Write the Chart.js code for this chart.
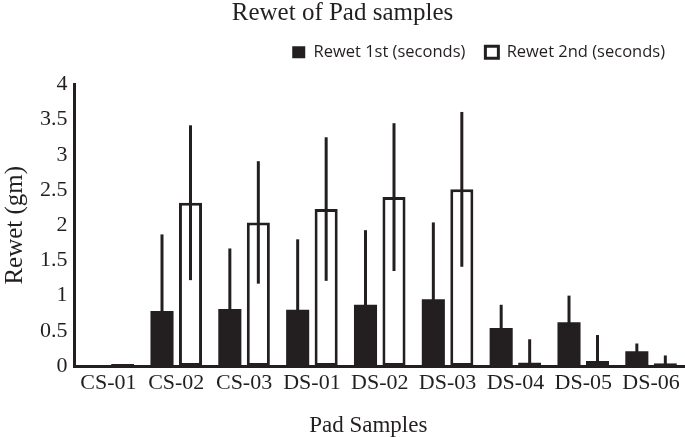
<!DOCTYPE html>
<html>
<head>
<meta charset="utf-8">
<script src="https://cdn.jsdelivr.net/npm/chart.js@4/dist/chart.umd.min.js"></script>
<style>
  html, body { margin: 0; padding: 0; background: #fff; }
  #wrap { width: 685px; height: 437px; position: relative; }
</style>
</head>
<body>
<div id="wrap"><canvas id="rewetChart"></canvas></div>
<script>
const samples = ['CS-01', 'CS-02', 'CS-03', 'DS-01', 'DS-02', 'DS-03', 'DS-04', 'DS-05', 'DS-06'];
const rewet1st = [0, 0.78, 0.81, 0.80, 0.87, 0.95, 0.54, 0.62, 0.21];
const rewet1stErr = [0, 1.09, 0.86, 1.00, 1.06, 1.09, 0.33, 0.38, 0.11];
const rewet2nd = [0.03, 2.32, 2.04, 2.23, 2.40, 2.51, 0.05, 0.07, 0.04];
const rewet2ndErr = [0, 1.10, 0.87, 1.02, 1.05, 1.10, 0.33, 0.37, 0.11];

const ink = '#231f20';
const serif = "'Liberation Serif', 'Times New Roman', serif";

// vertical error lines, no caps, clipped at zero
const errorBars = {
    id: 'errorBars',
    afterDatasetsDraw(chart) {
        const ctx = chart.ctx;
        const y = chart.scales.y;
        ctx.save();
        ctx.strokeStyle = ink;
        ctx.lineWidth = 3;
        chart.data.datasets.forEach((ds, i) => {
            const meta = chart.getDatasetMeta(i);
            meta.data.forEach((bar, j) => {
                const e = ds.errors[j];
                if (!e) return;
                const v = ds.data[j];
                const top = y.getPixelForValue(v + e);
                const bottom = y.getPixelForValue(Math.max(0, v - e));
                ctx.beginPath();
                ctx.moveTo(bar.x, top);
                ctx.lineTo(bar.x, bottom);
                ctx.stroke();
            });
        });
        ctx.restore();
    }
};

// a bit of empty room under the legend
const legendSpace = {
    id: 'legendSpace',
    beforeLayout(chart) {
        const legend = chart.legend;
        if (!legend || legend._spaced) return;
        const fit = legend.fit;
        legend.fit = function () {
            fit.call(this);
            this.height += 14;
        };
        legend._spaced = true;
    }
};

const ctx = document.getElementById('rewetChart').getContext('2d');
new Chart(ctx, {
    type: 'bar',
    data: {
        labels: samples,
        datasets: [{
            label: 'Rewet 1st (seconds)',
            data: rewet1st,
            errors: rewet1stErr,
            backgroundColor: ink,
            borderColor: ink,
            borderWidth: 0,
            categoryPercentage: 0.84,
            barPercentage: 0.81
        }, {
            label: 'Rewet 2nd (seconds)',
            data: rewet2nd,
            errors: rewet2ndErr,
            backgroundColor: '#ffffff',
            borderColor: ink,
            borderWidth: 3,
            borderSkipped: false,
            categoryPercentage: 0.84,
            barPercentage: 0.81
        }]
    },
    options: {
        responsive: true,
        maintainAspectRatio: false,
        animation: false,
        layout: { padding: { left: 0, right: 0, top: 0, bottom: 0 } },
        plugins: {
            title: {
                display: true,
                text: 'Rewet of Pad samples',
                color: ink,
                font: { family: serif, size: 25, weight: 'normal' },
                padding: { top: -2, bottom: -4 }
            },
            legend: {
                position: 'top',
                align: 'end',
                labels: {
                    boxWidth: 13,
                    boxHeight: 12,
                    padding: 20,
                    color: ink,
                    font: { family: "'Open Sans', sans-serif", size: 16.5 }
                }
            },
            tooltip: { enabled: false }
        },
        scales: {
            x: {
                grid: { display: false, drawTicks: false },
                border: { display: true, color: ink, width: 3 },
                ticks: {
                    color: ink,
                    autoSkip: false,
                    maxRotation: 0,
                    padding: 4,
                    font: { family: serif, size: 22 }
                },
                title: {
                    display: true,
                    text: 'Pad Samples    ',
                    color: ink,
                    padding: { top: 12, bottom: -3 },
                    font: { family: serif, size: 23 }
                }
            },
            y: {
                min: 0,
                max: 4,
                grid: { display: false, drawTicks: false },
                border: { display: true, color: ink, width: 3 },
                ticks: {
                    stepSize: 0.5,
                    color: ink,
                    padding: 7,
                    font: { family: serif, size: 22 },
                    callback: v => v
                },
                title: {
                    display: true,
                    text: 'Rewet (gm)',
                    color: ink,
                    padding: { top: 0, bottom: 3 },
                    font: { family: serif, size: 25 }
                }
            }
        }
    },
    plugins: [errorBars, legendSpace]
});
</script>
</body>
</html>
